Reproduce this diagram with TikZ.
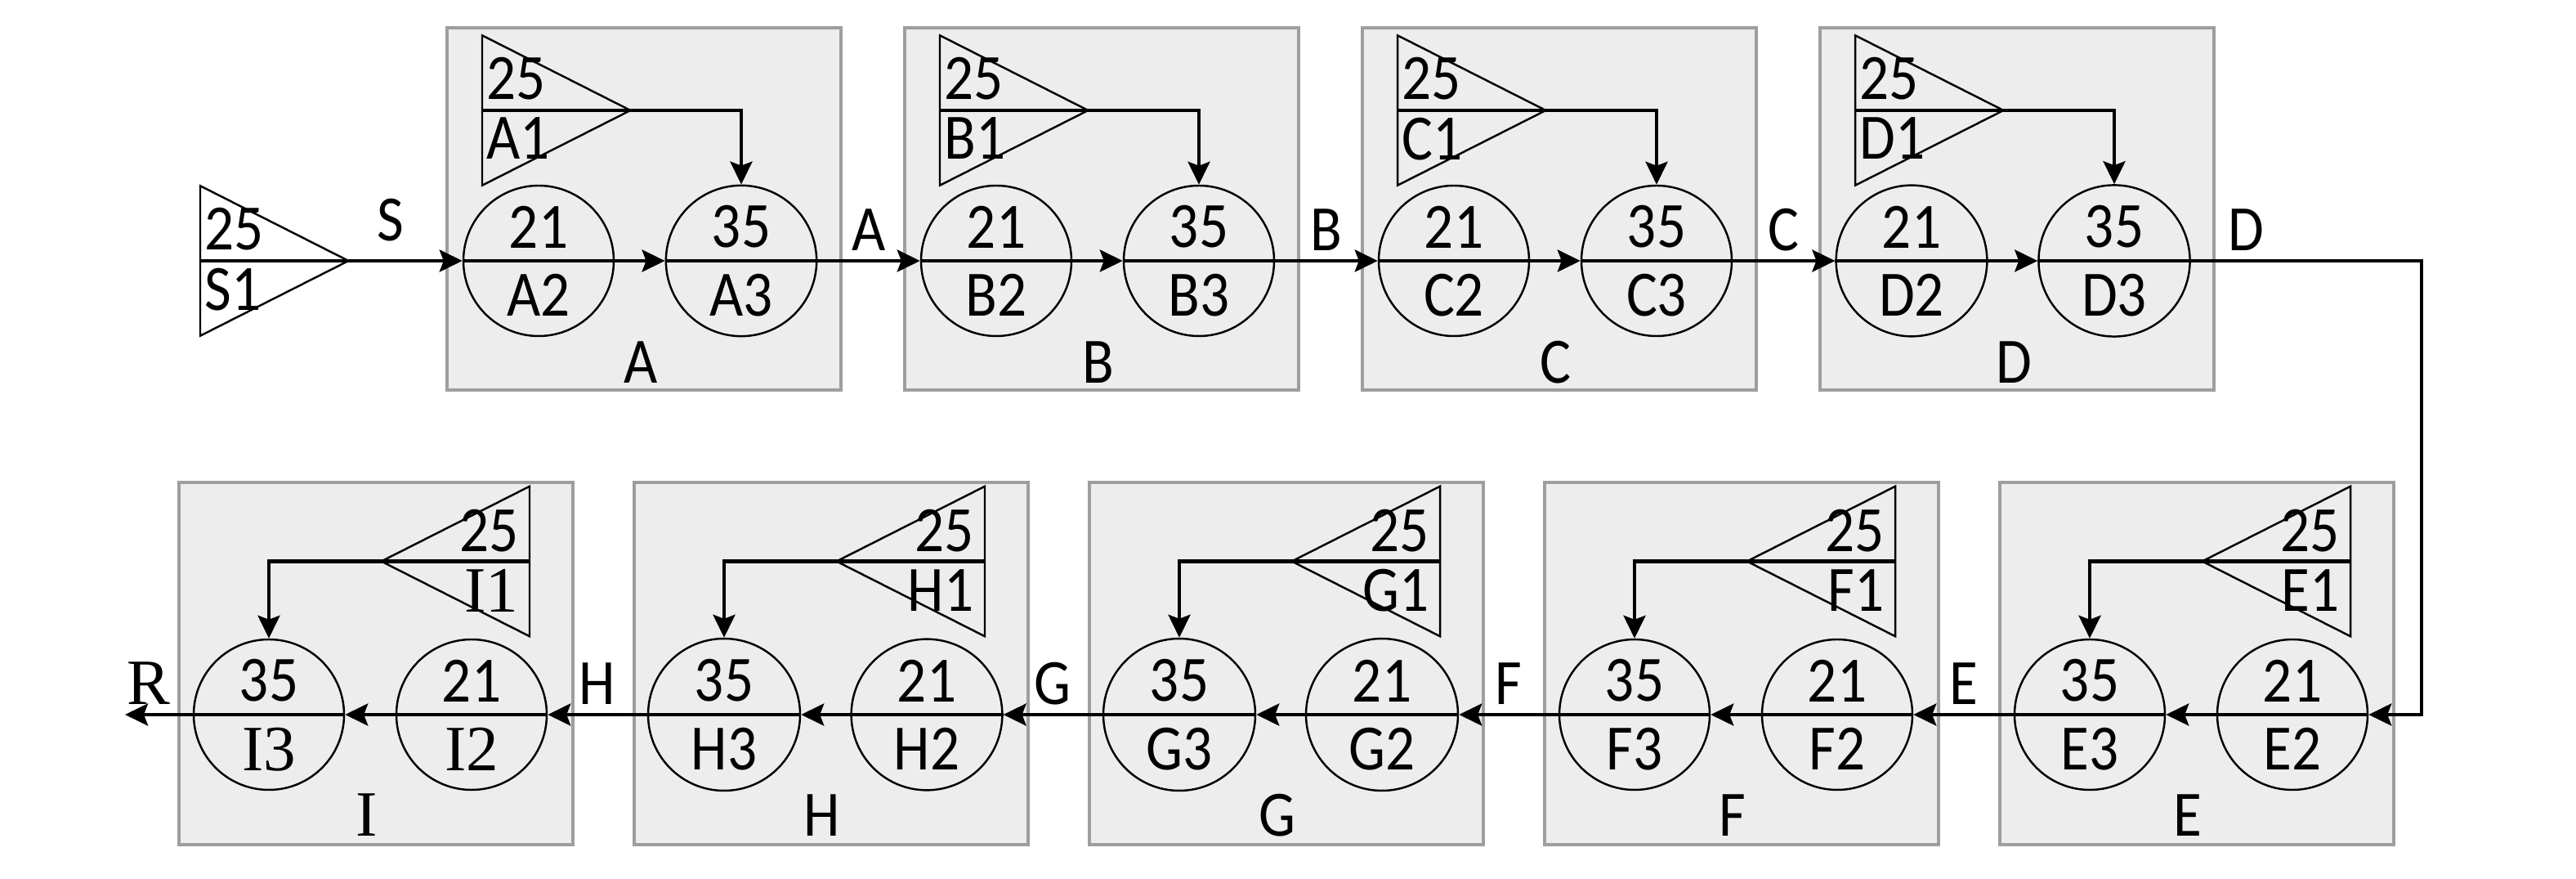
\documentclass[tikz,border=0pt]{standalone}
\usepackage{fontspec}
\setmainfont{Carlito}[FakeStretch=0.9]
\newfontfamily\romI{Liberation Serif}
\usetikzlibrary{positioning, arrows.meta, shapes.multipart}
\tikzset {
    >={Stealth[length=2.8mm, width=2.7mm, inset=0.5mm]},
    node distance=2.48cm,
    every node/.style={font=\fontsize{22.5}{27}\selectfont},
    stage/.style={draw=black!38, fill=black!7, line width=1.1pt, minimum width=4.82cm, minimum height=4.43cm, anchor=north west},
    tank/.style={circle split, draw, line width=0.7pt, minimum size=1.84cm, inner xsep=1pt, inner ysep=1.45mm},
    gain/.style={minimum width=1.8cm, minimum height=1.82cm, inner sep=0pt},
    flow/.style={line width=1.2pt},
    tag/.style={above=1mm, inner sep=0pt},
    num/.style={inner sep=0pt}
}

\begin{document}
\begin{tikzpicture}
\useasboundingbox (0,0) rectangle (31.52,-10.75);

% source
\node[gain, anchor=west] (S1) at (2.45,-3.19) {};
\draw[line width=0.7pt] (S1.north west) -- (S1.east) -- (S1.south west) -- cycle;
\draw[flow] (S1.west) -- (S1.east);
\node[num, anchor=south west] (S1v) at ([xshift=0.5mm, yshift=1.2mm]S1.west) {25};
\node[num, anchor=north west] (S1n) at ([xshift=0.5mm, yshift=-0.8mm]S1.west) {S1};

% upper row
\foreach \s [count=\i from 0] in {A,B,C,D} {
    \pgfmathsetmacro\x{5.45+5.6*\i}
    \node[stage] (box\s) at (\x,-0.32) {};
    \node (lab\s) at ([xshift=-0.4mm, yshift=3.6mm]box\s.south) {\s};
    \node[tank] (\s2) at (\x+1.14,-3.19) {21 \nodepart{lower} \s2};
    \node[tank, right of=\s2] (\s3) {35 \nodepart{lower} \s3};
    \node[gain, anchor=west] (\s1) at (\x+0.45,-1.35) {};
    \draw[line width=0.7pt] (\s1.north west) -- (\s1.east) -- (\s1.south west) -- cycle;
    \draw[flow] (\s1.west) -- (\s1.east);
    \node[num, anchor=south west] (\s1v) at ([xshift=0.5mm, yshift=1.2mm]\s1.west) {25};
    \node[num, anchor=north west] (\s1n) at ([xshift=0.5mm, yshift=-0.8mm]\s1.west) {\s1};
    \draw[flow,->] (\s1.east) -| (\s3.north);
    \draw[flow] (\s2.west) -- (\s2.east);
    \draw[flow,->] (\s2.east) -- (\s3.west);
    \draw[flow] (\s3.west) -- (\s3.east);
}

% lower row
\foreach \s/\w [count=\i from 0] in {I/{\romI I},H/H,G/G,F/F,E/E} {
    \pgfmathsetmacro\x{2.17+5.57*\i}
    \node[stage] (box\s) at (\x,-5.88) {};
    \node (lab\s) at ([xshift=-1.1mm, yshift=3.8mm]box\s.south) {\w};
    \node[tank] (\s3) at (\x+1.12,-8.74) {35 \nodepart{lower} \w3};
    \node[tank, right of=\s3] (\s2) {21 \nodepart{lower} \w2};
    \node[gain, anchor=east] (\s1) at (\x+4.31,-6.865) {};
    \draw[line width=0.7pt] (\s1.north east) -- (\s1.west) -- (\s1.south east) -- cycle;
    \draw[flow] (\s1.east) -- (\s1.west);
    \node[num, anchor=south east] (\s1v) at ([xshift=-1.3mm, yshift=1.1mm]\s1.east) {25};
    \node[num, anchor=north east] (\s1n) at ([xshift=-1.3mm, yshift=-0.9mm]\s1.east) {\w1};
    \draw[flow,->] (\s1.west) -| (\s3.north);
    \draw[flow] (\s2.east) -- (\s2.west);
    \draw[flow,->] (\s2.west) -- (\s3.east);
    \draw[flow] (\s3.east) -- (\s3.west);
}

% links between stages
\coordinate (turn) at (29.63,-3.19);
\coordinate (out) at (1.53,-8.74);
\draw[flow,->] (S1.east) -- node[tag, pos=0.37, above=2.2mm] (tS) {S} (A2.west);
\foreach \a/\b in {A/B,B/C,C/D}
    \draw[flow,->] (\a3.east) -- node[tag] (t\a) {\a} (\b2.west);
\draw[flow,->] (D3.east) -- node[tag, pos=0.24] (tD) {D} (turn) |- (E2.east);
\foreach \a/\b in {E/F,F/G,G/H,H/I}
    \draw[flow,->] (\a3.west) -- node[tag] (t\a) {\a} (\b2.east);
\draw[flow,->] (I3.west) -- node[tag, pos=0.65] (tR) {\romI R} (out);
\end{tikzpicture}
\end{document}
